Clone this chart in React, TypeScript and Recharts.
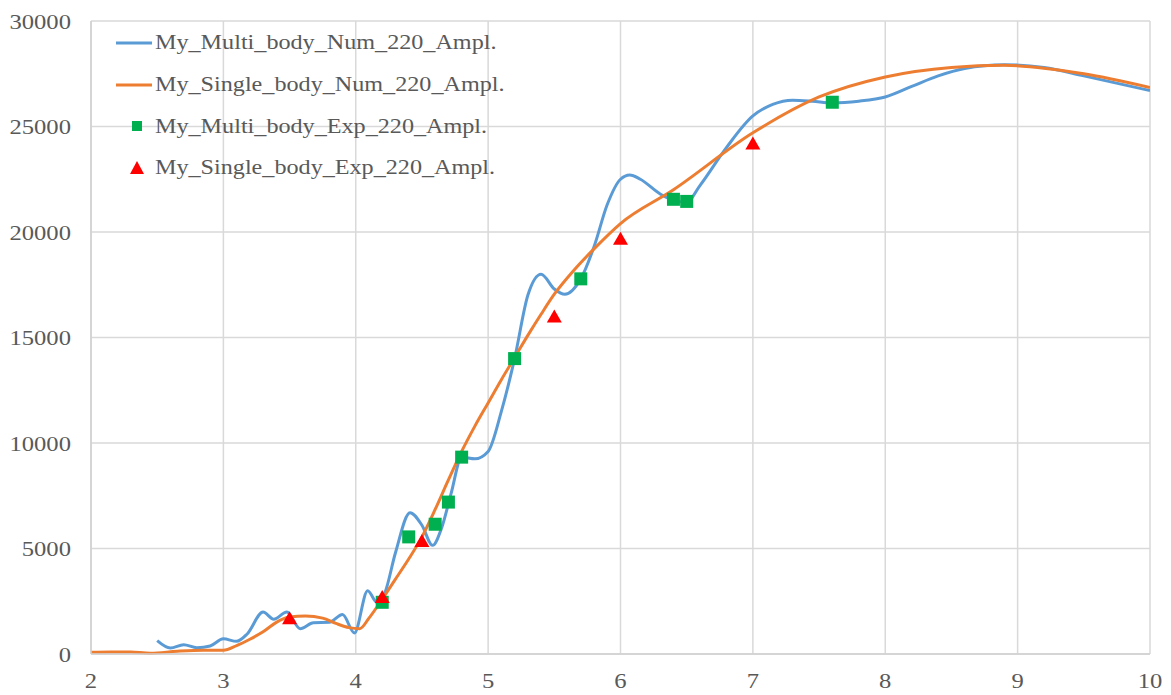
import { CartesianGrid, ComposedChart, Line, Scatter, XAxis, YAxis } from 'recharts'

type Pt = { x: number; y: number }

// numerical amplitude curves (x vs amplitude)
const multiNumX = [
  2.5, 2.6, 2.7, 2.8, 2.9, 3.0, 3.1, 3.18, 3.3, 3.38, 3.48, 3.58, 3.68, 3.8, 3.9, 3.99, 4.09, 4.16, 4.22,
  4.3, 4.41, 4.5, 4.58, 4.65, 4.72, 4.8, 4.9, 5.0, 5.1, 5.2, 5.3, 5.4, 5.5, 5.58, 5.7, 5.8, 5.9, 6.0,
  6.07, 6.15, 6.3, 6.4, 6.5, 6.6, 6.8, 7.0, 7.15, 7.3, 7.45, 7.6, 7.8, 8.0, 8.2, 8.4, 8.6, 8.9, 9.2, 9.5, 10,
]
const multiNumY = [
  630, 280, 440, 300, 380, 720, 600, 950, 1990, 1650, 1990, 1200, 1480, 1500, 1870, 1000, 3000, 2450, 2900,
  4800, 6700, 6100, 5150, 6000, 7600, 9330, 9250, 9600, 11500, 14000, 17000, 18000, 17300, 17050, 17780, 19300, 21300, 22500,
  22700, 22500, 21800, 21500, 21420, 22200, 24000, 25500, 26050, 26250, 26200, 26120, 26200, 26400, 26900, 27400, 27750, 27930, 27800, 27400, 26700,
]

const singleNumX = [
  2.0, 2.15, 2.3, 2.45, 2.65, 2.85, 3.0, 3.1, 3.2, 3.3, 3.4, 3.5, 3.62, 3.75, 3.85, 3.95, 4.03, 4.1, 4.2,
  4.3, 4.4, 4.5, 4.6, 4.7, 4.8, 4.9, 5.0, 5.1, 5.2, 5.3, 5.4, 5.5, 5.65, 5.8, 6.0, 6.4, 7.0, 7.5, 8.0, 8.5, 8.9, 9.5, 10,
]
const singleNumY = [
  80, 100, 90, 40, 130, 180, 180, 400, 700, 1050, 1500, 1750, 1800, 1700, 1450, 1250, 1200, 1700, 2600,
  3550, 4500, 5550, 6850, 8250, 9600, 10800, 11900, 13000, 14050, 15100, 16100, 17050, 18200, 19200, 20400, 22000, 24700, 26400, 27350, 27800, 27900, 27500, 26850,
]

// experimental points
const multiExpX = [4.2, 4.4, 4.6, 4.7, 4.8, 5.2, 5.7, 6.4, 6.5, 7.6]
const multiExpY = [2450, 5550, 6150, 7200, 9330, 14000, 17780, 21550, 21450, 26150]

const singleExpX = [3.5, 4.2, 4.5, 5.5, 6.0, 7.0]
const singleExpY = [1700, 2700, 5350, 16000, 19680, 24200]

const xTicks = [2, 3, 4, 5, 6, 7, 8, 9, 10]
const yTicks = [0, 5000, 10000, 15000, 20000, 25000, 30000]

const zip = (xs: number[], ys: number[]): Pt[] => xs.map((x, i) => ({ x, y: ys[i] }))

const multiNum = zip(multiNumX, multiNumY)
const singleNum = zip(singleNumX, singleNumY)
const multiExp = zip(multiExpX, multiExpY)
const singleExp = zip(singleExpX, singleExpY)

const BLUE = '#5B9BD5'
const ORANGE = '#ED7D31'
const GREEN = '#00B050'
const RED = '#FF0000'
const TEXT = '#595959'
const FONT = '"Times New Roman", "Liberation Serif", serif'
const STRETCH = 1.12

const SquareDot = (props: any) => {
  const { cx, cy } = props
  return <rect x={cx - 6.5} y={cy - 6.5} width={13} height={13} fill={GREEN} />
}

const TriangleDot = (props: any) => {
  const { cx, cy } = props
  return <polygon points={`${cx},${cy - 7} ${cx + 7.5},${cy + 6} ${cx - 7.5},${cy + 6}`} fill={RED} />
}

// slightly widened serif labels
const XTick = (props: any) => {
  const { x, y, payload } = props
  return (
    <g transform={`translate(${x},${y}) scale(${STRETCH},1)`}>
      <text x={0} y={0} dy="0.355em" textAnchor="middle" fill={TEXT} fontSize={22} fontFamily={FONT}>
        {payload.value}
      </text>
    </g>
  )
}

const YTick = (props: any) => {
  const { x, y, payload } = props
  return (
    <g transform={`translate(${x},${y}) scale(${STRETCH},1)`}>
      <text x={0} y={0} dy="0.355em" textAnchor="end" fill={TEXT} fontSize={22} fontFamily={FONT}>
        {payload.value}
      </text>
    </g>
  )
}

const legendItems = [
  { name: 'My_Multi_body_Num_220_Ampl.', kind: 'line', color: BLUE },
  { name: 'My_Single_body_Num_220_Ampl.', kind: 'line', color: ORANGE },
  { name: 'My_Multi_body_Exp_220_Ampl.', kind: 'square', color: GREEN },
  { name: 'My_Single_body_Exp_220_Ampl.', kind: 'triangle', color: RED },
]

// legend drawn as an overlay so it doesn't shrink the plot area
function ChartLegend() {
  return (
    <div
      style={{
        position: 'absolute',
        left: 114,
        top: 22,
        fontFamily: FONT,
        fontSize: 21,
        color: TEXT,
      }}
    >
      {legendItems.map((it) => (
        <div key={it.name} style={{ display: 'flex', alignItems: 'center', height: 41.7, whiteSpace: 'nowrap' }}>
          <svg width={40} height={20} style={{ marginRight: 1 }}>
            {it.kind === 'line' && <line x1={2} y1={10} x2={38} y2={10} stroke={it.color} strokeWidth={3} />}
            {it.kind === 'square' && <rect x={18} y={5} width={10} height={10} fill={it.color} />}
            {it.kind === 'triangle' && <polygon points="23,3 30,16 16,16" fill={it.color} />}
          </svg>
          <span style={{ display: 'inline-block', transform: `scaleX(${STRETCH + 0.03})`, transformOrigin: 'left center' }}>
            {it.name}
          </span>
        </div>
      ))}
    </div>
  )
}

export default function App() {
  return (
    <div style={{ position: 'absolute', left: 0, top: 0, width: 1171, height: 695, background: '#fff', fontFamily: FONT }}>
      <ComposedChart width={1171} height={695} margin={{ top: 21, right: 21, bottom: 0, left: 0 }}>
        <CartesianGrid stroke="#d9d9d9" strokeWidth={1.5} />
        <XAxis
          type="number"
          dataKey="x"
          domain={[2, 10]}
          ticks={xTicks}
          allowDataOverflow
          tickLine={false}
          tickSize={0}
          tickMargin={26}
          axisLine={{ stroke: '#d0d0d0', strokeWidth: 1.5 }}
          tick={<XTick />}
          height={41}
        />
        <YAxis
          type="number"
          dataKey="y"
          domain={[0, 30000]}
          ticks={yTicks}
          tickLine={false}
          tickSize={0}
          tickMargin={20}
          axisLine={{ stroke: '#d0d0d0', strokeWidth: 1.5 }}
          tick={<YTick />}
          width={91}
        />
        <Line
          data={multiNum}
          dataKey="y"
          type="monotone"
          stroke={BLUE}
          strokeWidth={3}
          dot={false}
          activeDot={false}
          isAnimationActive={false}
        />
        <Line
          data={singleNum}
          dataKey="y"
          type="monotone"
          stroke={ORANGE}
          strokeWidth={3}
          dot={false}
          activeDot={false}
          isAnimationActive={false}
        />
        <Scatter data={multiExp} dataKey="y" shape={SquareDot} isAnimationActive={false} />
        <Scatter data={singleExp} dataKey="y" shape={TriangleDot} isAnimationActive={false} />
      </ComposedChart>
      <ChartLegend />
    </div>
  )
}
